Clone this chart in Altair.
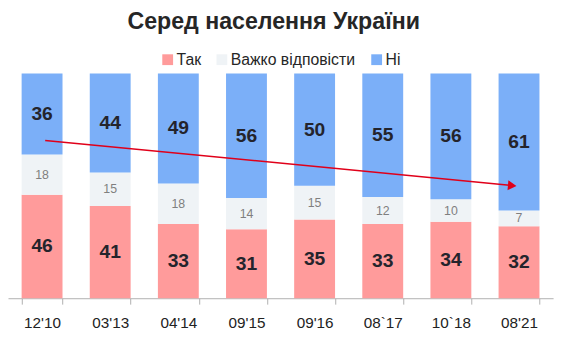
import altair as alt
import pandas as pd

dates = ["12'10", "03'13", "04'14", "09'15", "09'16", "08`17", "10`18", "08'21"]
categories = ["Так", "Важко відповісти", "Ні"]
yes_vals = [46, 41, 33, 31, 35, 33, 34, 32]
hard_vals = [18, 15, 18, 14, 15, 12, 10, 7]
no_vals = [36, 44, 49, 56, 50, 55, 56, 61]
colors = ["#FF9B9B", "#EFF3F6", "#7BAFF8"]

# trend arrow (x in category-index units, y as share of bar)
arrow_x = [0.546, 7.36]
arrow_y = [0.702, 0.503]
head_x = [7.40]
head_y = [0.501]

FONT = "Liberation Sans"

df = pd.DataFrame({
    "date": dates * 3,
    "cat": [categories[0]] * 8 + [categories[1]] * 8 + [categories[2]] * 8,
    "val": yes_vals + hard_vals + no_vals,
    "ord": [0] * 8 + [1] * 8 + [2] * 8,
})

yscale = alt.Scale(domain=[0, 1], nice=False)
xscale = alt.Scale(domain=dates, paddingInner=0.4, paddingOuter=0.2)

base = alt.Chart(df).transform_stack(
    stack="val", groupby=["date"], as_=["v0", "v1"],
    sort=[alt.SortField("ord", order="ascending")], offset="normalize"
).transform_calculate(mid="(datum.v0 + datum.v1) / 2")

bars = base.mark_bar().encode(
    x=alt.X("date:N", sort=dates, scale=xscale,
            axis=alt.Axis(title=None, labelAngle=0, tickBand="extent",
                          domainColor="#B0B0B0", tickColor="#B0B0B0", tickSize=6,
                          labelFont=FONT, labelFontSize=15.5, labelColor="#222222",
                          labelPadding=12)),
    y=alt.Y("v0:Q", scale=yscale, axis=None),
    y2="v1:Q",
    color=alt.Color("cat:N", scale=alt.Scale(domain=categories, range=colors),
                    legend=alt.Legend(orient="none", legendX=154, legendY=-22,
                                      direction="horizontal", title=None,
                                      symbolType="square", symbolSize=120,
                                      symbolStrokeWidth=0, labelFont=FONT,
                                      labelFontSize=16, labelColor="#262626",
                                      columnPadding=13, labelOffset=1)),
)

big_text = base.transform_filter("datum.ord != 1").mark_text(
    font=FONT, fontWeight="bold", fontSize=19.5, color="#24242C"
).encode(
    x=alt.X("date:N", sort=dates, scale=xscale, axis=None),
    y=alt.Y("mid:Q", scale=yscale, axis=None),
    text="val:Q",
)

small_text = base.transform_filter("datum.ord == 1").mark_text(
    font=FONT, fontSize=12.5, color="#7F7F7F"
).encode(
    x=alt.X("date:N", sort=dates, scale=xscale, axis=None),
    y=alt.Y("mid:Q", scale=yscale, axis=None),
    text="val:Q",
)

axscale = alt.Scale(domain=[0, 8], nice=False, zero=False)
arrow_line = alt.Chart(pd.DataFrame({"ax": arrow_x, "ay": arrow_y})).mark_line(
    color="#E0001A", strokeWidth=1.6
).encode(
    x=alt.X("ax:Q", scale=axscale, axis=None),
    y=alt.Y("ay:Q", scale=yscale, axis=None),
)
arrow_head = alt.Chart(pd.DataFrame({"ax": head_x, "ay": head_y})).mark_point(
    shape="triangle-right", filled=True, color="#E0001A", size=100, angle=5, opacity=1
).encode(
    x=alt.X("ax:Q", scale=axscale, axis=None),
    y=alt.Y("ay:Q", scale=yscale, axis=None),
)

chart = alt.layer(bars, big_text, small_text, arrow_line, arrow_head).resolve_scale(
    x="independent"
).properties(
    width=553, height=228,
    title=alt.TitleParams("Серед населення України", font=FONT,
                          fontSize=23.5, fontWeight="bold", color="#262626",
                          anchor="middle", offset=19, dx=-7),
    autosize=alt.AutoSizeParams(type="none"),
    padding={"left": 0, "top": 64, "right": 6, "bottom": 45},
).configure_view(stroke=None)

chart.save("out.html", embed_options={"renderer": "svg", "actions": False})
